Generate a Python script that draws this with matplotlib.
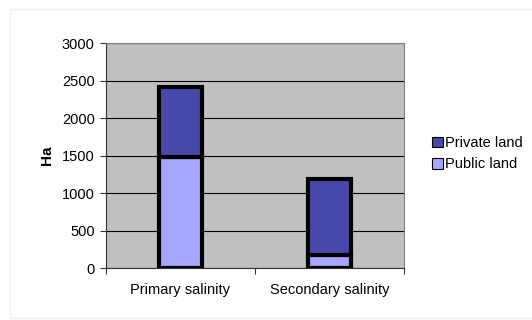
import numpy as np
import matplotlib.pyplot as plt
from matplotlib.patches import Rectangle

categories = ['Primary salinity', 'Secondary salinity']
public_land = [1480, 180]
private_land = [940, 1010]

plt.rcParams['font.family'] = ['Liberation Sans', 'DejaVu Sans']

fig = plt.figure(figsize=(5.32, 3.2), dpi=100)
fig.patch.set_facecolor('white')
# faint outer frame of the chart area
fig.patches.append(Rectangle((0.019, 0.005), 1.0, 0.967, transform=fig.transFigure,
                             fill=False, edgecolor='#f0f0f0', linewidth=1))

ax = fig.add_axes([0.199, 0.1625, 0.56, 0.703])
ax.set_facecolor('#c0c0c0')

x = np.arange(len(categories))
w = 0.29
ax.bar(x, public_land, w, color='#a6a6ff', edgecolor='black', linewidth=3,
       label='Public land', zorder=3)
ax.bar(x, private_land, w, bottom=public_land, color='#4848aa', edgecolor='black',
       linewidth=3, label='Private land', zorder=3)

ax.set_xlim(-0.5, 1.5)
ax.set_ylim(0, 3000)
ax.set_yticks(np.arange(0, 3001, 500))
ax.yaxis.grid(True, color='black', linewidth=0.8, zorder=1)
ax.set_axisbelow(True)

ax.set_xticks([-0.5, 0.5, 1.5])
ax.set_xticklabels([])
ax.set_xticks(x, minor=True)
ax.set_xticklabels(categories, minor=True)
ax.tick_params(axis='x', which='minor', length=0, pad=11, labelsize=10.5)
ax.tick_params(axis='x', which='major', length=4, direction='out', color='#333333')
ax.tick_params(axis='y', length=4, direction='out', labelsize=10.5, pad=4, color='#333333')

for s in ['top', 'right']:
    ax.spines[s].set_color('#808080')
ax.spines['left'].set_color('#333333')
ax.spines['bottom'].set_color('#333333')

ax.set_ylabel('Ha', fontsize=11, fontweight='bold', labelpad=6)

h, l = ax.get_legend_handles_labels()
leg = fig.legend(h[::-1], l[::-1], loc='center left', bbox_to_anchor=(0.787, 0.52),
                 frameon=False, fontsize=10.5, handlelength=0.75, handleheight=0.75,
                 handletextpad=0.15, labelspacing=0.5)
for p in leg.get_patches():
    p.set_linewidth(0.8)

fig.savefig('out.png', dpi=100, facecolor='white')
